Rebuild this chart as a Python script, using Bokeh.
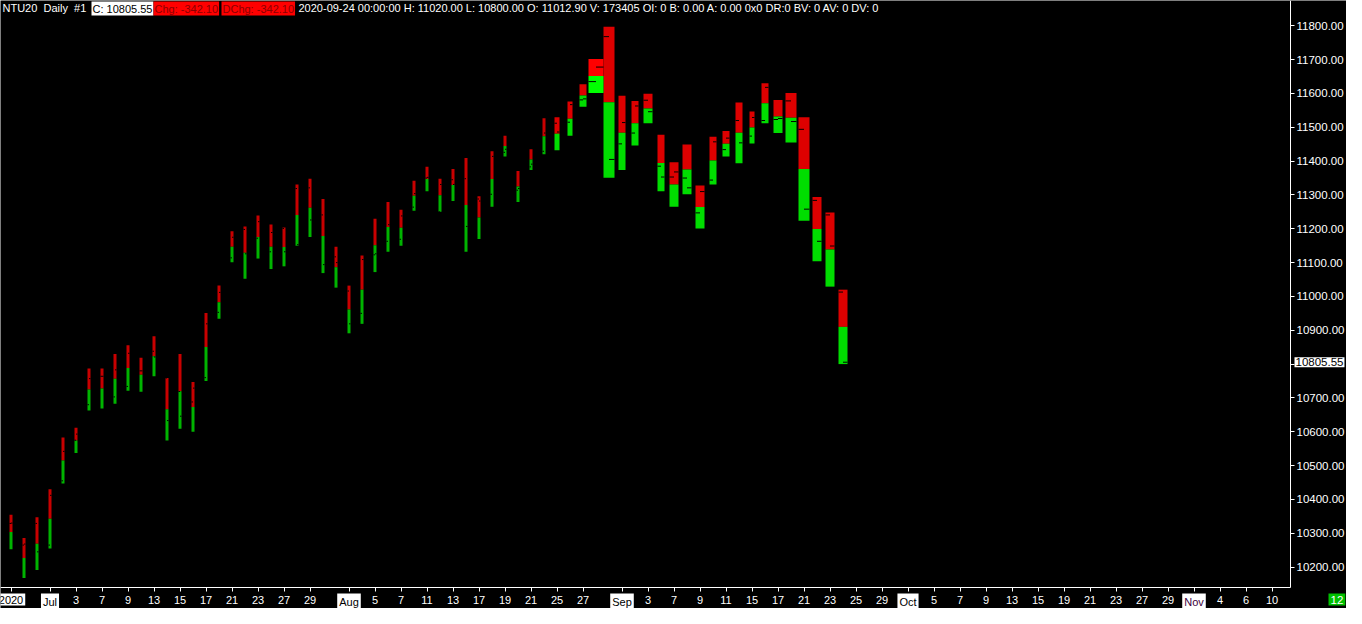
import pandas as pd
from bokeh.plotting import figure
from bokeh.models import (Range1d, FixedTicker, Label, PrintfTickFormatter, ColumnDataSource,
                          LinearAxis)
from bokeh.embed import file_html
from bokeh.resources import INLINE

# ---------------- data ----------------
start_date = "2020-06-26"
highs = [10355, 10286, 10347, 10430, 10583, 10612, 10787, 10787, 10830, 10856,
         10819, 10882, 10759, 10830, 10747, 10951, 11032, 11193, 11207, 11239,
         11213, 11204, 11331, 11348, 11288, 11147, 11032, 11121, 11230, 11279,
         11256, 11342, 11383, 11348, 11377, 11409, 11296, 11429, 11475, 11371,
         11435, 11527, 11530, 11576, 11627, 11702, 11797, 11593, 11578, 11599,
         11478, 11397, 11449, 11328, 11472, 11489, 11573, 11547, 11630, 11581,
         11601, 11530, 11294, 11248, 11020.00]
lows = [10253, 10168, 10191, 10255, 10447, 10537, 10663, 10669, 10683, 10721,
        10718, 10764, 10574, 10609, 10600, 10750, 10934, 11101, 11052, 11112,
        11081, 11089, 11150, 11176, 11069, 11026, 10891, 10919, 11072, 11132,
        11150, 11253, 11311, 11250, 11282, 11132, 11170, 11265, 11414, 11279,
        11374, 11420, 11432, 11475, 11561, 11601, 11351, 11374, 11446, 11512,
        11311, 11265, 11302, 11201, 11331, 11414, 11394, 11452, 11512, 11483,
        11455, 11224, 11104, 11029, 10800.00]
opens = [10329, 10265, 10329, 10265, 10455, 10575, 10680, 10764, 10703, 10734,
         10780, 10838, 10759, 10719, 10688, 10760, 10953, 11114, 11198, 11172,
         11132, 11201, 11319, 11321, 11241, 11117, 11016, 10950, 11123, 11163,
         11169, 11264, 11350, 11250, 11345, 11348, 11288, 11302, 11426, 11314,
         11383, 11429, 11512, 11515, 11581, 11635, 11768, 11451, 11483, 11580,
         11385, 11353, 11350, 11247, 11344, 11434, 11520, 11474, 11520, 11523,
         11578, 11494, 11284, 11241, 11012.90]
closes = [10330, 10268, 10245, 10412, 10542, 10593, 10757, 10764, 10783, 10832,
          10780, 10821, 10633, 10646, 10729, 10919, 11012, 11175, 11126, 11221,
          11189, 11132, 11153, 11226, 11094, 11100, 10919, 11109, 11126, 11212,
          11238, 11304, 11352, 11331, 11331, 11207, 11282, 11414, 11435, 11319,
          11391, 11483, 11486, 11567, 11584, 11678, 11405, 11514, 11563, 11546,
          11353, 11368, 11321, 11310, 11457, 11468, 11454, 11529, 11618, 11526,
          11517, 11258, 11163, 11149, 10805.55]
# relative volume, shown as bar thickness
vol_width = [3, 3, 3, 3, 3, 3, 3, 3, 3, 3,
             3, 3, 3, 3, 3, 3, 3, 3, 3, 3,
             3, 3, 3, 3, 3, 3, 3, 3, 3, 3,
             3, 3, 3, 3, 3, 3, 3, 3, 3, 3,
             3, 3, 5, 5, 7, 15, 11, 7, 7, 9,
             7, 9, 9, 9, 7, 7, 7, 5, 7, 9,
             11, 11, 9, 9, 9]

tick_dates = ["2020-06-26", "2020-07-01", "2020-07-03", "2020-07-07", "2020-07-09", "2020-07-13",
              "2020-07-15", "2020-07-17", "2020-07-21", "2020-07-23", "2020-07-27", "2020-07-29",
              "2020-08-03", "2020-08-05", "2020-08-07", "2020-08-11", "2020-08-13", "2020-08-17",
              "2020-08-19", "2020-08-21", "2020-08-25", "2020-08-27", "2020-09-01", "2020-09-03",
              "2020-09-07", "2020-09-09", "2020-09-11", "2020-09-15", "2020-09-17", "2020-09-21",
              "2020-09-23", "2020-09-25", "2020-09-29", "2020-10-01", "2020-10-05", "2020-10-07",
              "2020-10-09", "2020-10-13", "2020-10-15", "2020-10-19", "2020-10-21", "2020-10-23",
              "2020-10-27", "2020-10-29", "2020-11-02", "2020-11-04", "2020-11-06", "2020-11-10"]
tick_text = ["2020", "Jul", "3", "7", "9", "13", "15", "17", "21", "23", "27", "29",
             "Aug", "5", "7", "11", "13", "17", "19", "21", "25", "27",
             "Sep", "3", "7", "9", "11", "15", "17", "21", "23", "25", "29",
             "Oct", "5", "7", "9", "13", "15", "19", "21", "23", "27", "29",
             "Nov", "4", "6", "10"]
month_names = ["2020", "Jul", "Aug", "Sep", "Oct", "Nov"]
price_ticks = [10200, 10300, 10400, 10500, 10600, 10700, 10800, 10900, 11000,
               11100, 11200, 11300, 11400, 11500, 11600, 11700, 11800]

symbol = "NTU20\u00a0 Daily\u00a0 #1"
last_date = "2020-09-24 00:00:00"
volume_last = 173405
change = -342.10
bar_count = "12"

# ---------------- layout ----------------
W, H = 1346, 608               # whole canvas (the frame covers it)
PW, PH = 1290, 587             # price/time area inside it
PX = 13.0                      # pixels per trading day
y_lo, y_hi = 10139.6, 11874.8
per_px = (y_hi - y_lo) / PH
x_start = -10.5 / PX
x_end = x_start + W / PX
x_axis_pos = x_start + PW / PX
y_start = y_hi - H * per_px

days = pd.bdate_range(start_date, periods=110)
day_index = {d.strftime("%Y-%m-%d"): i for i, d in enumerate(days)}

n = len(highs)
xs = list(range(n))
mids = [(h + l) / 2 for h, l in zip(highs, lows)]

def bar_color(w, part):
    if w >= 15:
        return "#ff0000" if part == "up" else "#00ff00"
    if w <= 3:
        return "#c80000" if part == "up" else "#00b400"
    return "#dd0000" if part == "up" else "#00dd00"

src = ColumnDataSource(dict(
    x=xs,
    w=vol_width,
    ry=[(h + m) / 2 for h, m in zip(highs, mids)],
    rh=[h - m for h, m in zip(highs, mids)],
    gy=[(m + l) / 2 for m, l in zip(mids, lows)],
    gh=[m - l for m, l in zip(mids, lows)],
    rc=[bar_color(w, "up") for w in vol_width],
    gc=[bar_color(w, "dn") for w in vol_width],
    ox0=[x - (w / 2) / PX for x, w in zip(xs, vol_width)],
    ox1=[x for x in xs],
    cx0=[x for x in xs],
    cx1=[x + (w / 2) / PX for x, w in zip(xs, vol_width)],
    o=opens,
    c=closes,
))

p = figure(width=W, height=H, output_backend="svg", toolbar_location=None,
           x_range=Range1d(x_start, x_end), y_range=Range1d(y_start, y_hi),
           x_axis_location=None, y_axis_location=None,
           background_fill_color="black", border_fill_color="black", outline_line_color=None,
           min_border_left=0, min_border_top=0, min_border_right=0, min_border_bottom=0)
p.grid.visible = False

p.rect(x="x", y="ry", width="w", height="rh", width_units="screen", source=src,
       fill_color="rc", line_color=None)
p.rect(x="x", y="gy", width="w", height="gh", width_units="screen", source=src,
       fill_color="gc", line_color=None)
p.segment(x0="ox0", x1="ox1", y0="o", y1="o", source=src, line_color="black", line_width=1)
p.segment(x0="cx0", x1="cx1", y0="c", y1="c", source=src, line_color="black", line_width=1)

FONT = "Liberation Sans"

# right price axis
ya = LinearAxis(fixed_location=x_axis_pos, bounds=(y_lo, y_hi))
ya.ticker = FixedTicker(ticks=price_ticks)
ya.formatter = PrintfTickFormatter(format="%.2f")
ya.major_label_overrides = {10800: ""}
ya.axis_line_color = "white"
ya.major_tick_line_color = "white"
ya.major_tick_out = 4
ya.major_tick_in = 0
ya.minor_tick_line_color = None
ya.major_label_standoff = 2
ya.major_label_text_color = "white"
ya.major_label_text_font = FONT
ya.major_label_text_font_size = "11.5px"
p.add_layout(ya, "right")

# bottom date axis
tick_pos = [day_index[d] for d in tick_dates]
xa = LinearAxis(fixed_location=y_lo, bounds=(x_start, x_axis_pos))
xa.ticker = FixedTicker(ticks=tick_pos)
xa.major_label_overrides = {pos: ("" if t in month_names else t) for pos, t in zip(tick_pos, tick_text)}
xa.axis_line_color = "white"
xa.major_tick_line_color = "white"
xa.major_tick_out = 4
xa.major_tick_in = 0
xa.minor_tick_line_color = None
xa.major_label_standoff = 4
xa.major_label_text_color = "white"
xa.major_label_text_font = FONT
xa.major_label_text_font_size = "11px"
p.add_layout(xa, "below")

for pos, t in zip(tick_pos, tick_text):
    if t in month_names:
        p.add_layout(Label(x=pos, y=H - PH - 6, x_units="data", y_units="screen", text=t,
                           text_align="center", text_baseline="top",
                           text_color="#400040" if t == "Nov" else "black",
                           text_font=FONT, text_font_size="11px",
                           background_fill_color="white", padding=2))

# last price marker on the price axis
p.add_layout(Label(x=PW + 4, y=closes[-1], x_units="screen", y_units="data",
                   text=f"{closes[-1]:.2f}", text_align="left", text_baseline="middle",
                   text_color="black", text_font=FONT, text_font_size="11.5px",
                   background_fill_color="white", padding=1))

# bar-count box in the corner
p.add_layout(Label(x=W - 18, y=H - PH - 6, x_units="screen", y_units="screen", text=bar_count,
                   text_align="left", text_baseline="top", text_color="white",
                   text_font=FONT, text_font_size="11.5px",
                   background_fill_color="#00c000", padding=2))

# header line
header = [
    (2, symbol, "white", None),
    (91, f"C: {closes[-1]:.2f}", "black", "white"),
    (153, f"Chg: {change:.2f}", "#8c0000", "#ff0000"),
    (221, f"DChg: {change:.2f}", "#8c0000", "#ff0000"),
    (298, f"{last_date} H: {highs[-1]:.2f} L: {lows[-1]:.2f} O: {opens[-1]:.2f} V: {volume_last} "
          f"OI: 0 B: 0.00 A: 0.00 0x0 DR:0 BV: 0 AV: 0 DV: 0", "white", None),
]
for hx, txt, col, bg in header:
    kw = dict(background_fill_color=bg, padding=1) if bg else {}
    p.add_layout(Label(x=hx, y=H - 1, x_units="screen", y_units="screen", text=txt,
                       text_align="left", text_baseline="top", text_color=col,
                       text_font=FONT, text_font_size="11px", **kw))

open("out.html", "w").write(file_html(p, INLINE))
